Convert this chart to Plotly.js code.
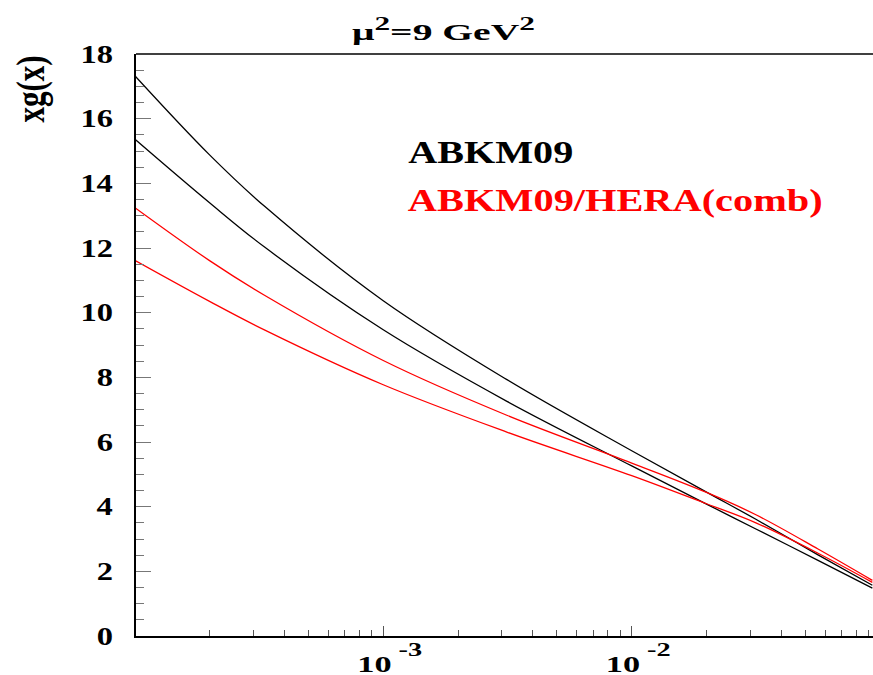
<!DOCTYPE html>
<html>
<head>
<meta charset="utf-8">
<script src="https://cdn.plot.ly/plotly-3.0.1.min.js"></script>
<style>html,body{margin:0;padding:0;background:#fff;}#chart{width:873px;height:675px;}</style>
</head>
<body>
<div id="chart"></div>
<script>
// x values (log scale)
var xVals = [1.0e-4, 2.0e-4, 3.34e-4, 1.0e-3, 3.16e-3, 1.0e-2, 2.0e-2, 3.16e-2, 5.62e-2, 9.3e-2];
// ABKM09 band (black)
var abkmUpper = [17.33, 14.88, 13.28, 10.37, 7.92, 5.73, 4.45, 3.61, 2.51, 1.57];
var abkmLower = [15.37, 13.40, 12.02, 9.47, 7.25, 5.26, 4.08, 3.31, 2.34, 1.48];
// ABKM09/HERA(comb) band (red)
var heraUpper = [13.25, 11.61, 10.53, 8.52, 6.82, 5.35, 4.44, 3.75, 2.69, 1.72];
var heraLower = [11.62, 10.35, 9.46, 7.77, 6.30, 4.96, 4.09, 3.50, 2.56, 1.66];

var xTickVals = [1e-3, 1e-2];
var xTickText = ['10<sup><span style="font-size:19px"> -3</span></sup>',
                 '10<sup><span style="font-size:19px"> -2</span></sup>'];
var yTickVals = [0, 2, 4, 6, 8, 10, 12, 14, 16, 18];

var serif = 'Liberation Serif';

function trace(y, color) {
  return {x: xVals, y: y, type: 'scatter', mode: 'lines',
          line: {color: color, width: 1.3, shape: 'spline', smoothing: 1},
          hoverinfo: 'skip', showlegend: false};
}

var minorX = [];
[1e-4, 1e-3, 1e-2].forEach(function (d) {
  for (var k = 2; k <= 9; k++) minorX.push(k * d);
});

var data = [
  trace(abkmUpper, '#000000'),
  trace(abkmLower, '#000000'),
  trace(heraUpper, '#ff0000'),
  trace(heraLower, '#ff0000')
];

var L = 136, T = 54, W = 737, H = 582;
function px(x) { return (x - L) / W; }
function py(y) { return 1 - (y - T) / H; }

var layout = {
  width: 873, height: 675,
  margin: {l: 136, r: 0, t: 54, b: 39},
  paper_bgcolor: '#ffffff', plot_bgcolor: '#ffffff',
  font: {family: serif, color: '#000000'},
  xaxis: {
    type: 'log', range: [-3.995, -1.029],
    showgrid: false, zeroline: false,
    showline: true, linecolor: '#000000', linewidth: 2,
    ticks: 'inside', ticklen: 10, tickwidth: 1, tickcolor: '#555555',
    tickmode: 'array', tickvals: xTickVals, ticktext: xTickText,
    tickfont: {family: serif, size: 23, color: '#000000', weight: 'bold'},
    ticklabelstandoff: 6,
    minor: {tickmode: 'array', tickvals: minorX, ticks: 'inside', ticklen: 6, tickwidth: 1, tickcolor: '#555555', showgrid: false}
  },
  yaxis: {
    range: [0, 18],
    showgrid: false, zeroline: false,
    showline: true, linecolor: '#000000', linewidth: 2,
    ticks: 'inside', ticklen: 15, tickwidth: 1, tickcolor: '#777777',
    tickmode: 'array', tickvals: yTickVals,
    tickfont: {family: serif, size: 25, color: '#000000', weight: 'bold'},
    ticklabelstandoff: 16,
    minor: {dtick: 0.5, ticks: 'inside', ticklen: 8, tickwidth: 1, tickcolor: '#777777', showgrid: false}
  },
  shapes: [
    {type: 'line', xref: 'paper', yref: 'paper', x0: 0, x1: 1, y0: 1, y1: 1,
     line: {color: '#000000', width: 1.5}}
  ],
  annotations: [
    {text: '<b>μ<sup><span style="font-size:19px">2</span></sup>=9 GeV<sup><span style="font-size:19px">2</span></sup></b>',
     xref: 'paper', yref: 'paper',
     x: px(443.5), y: py(29), xanchor: 'center', yanchor: 'middle',
     showarrow: false, font: {family: serif, size: 24, color: '#000000'}},
    {text: '<b>xg(x)</b>', xref: 'paper', yref: 'paper', textangle: -90,
     x: px(30), y: py(88.5), xanchor: 'center', yanchor: 'middle',
     showarrow: false, font: {family: serif, size: 31, color: '#000000'}},
    {text: '<b>ABKM09</b>', xref: 'paper', yref: 'paper',
     x: px(490.5), y: py(152.5), xanchor: 'center', yanchor: 'middle',
     showarrow: false, font: {family: serif, size: 31, color: '#000000'}},
    {text: '<b>ABKM09/HERA(comb)</b>', xref: 'paper', yref: 'paper',
     x: px(615.5), y: py(200.5), xanchor: 'center', yanchor: 'middle',
     showarrow: false, font: {family: serif, size: 31, color: '#ff0000'}}
  ]
};

// the reference's lettering is widened horizontally; reproduce that
function stretch(el, sx, sy, anchor, dx) {
  var bb = el.getBBox();
  var cx = anchor === 'right' ? bb.x + bb.width : (anchor === 'left' ? bb.x : bb.x + bb.width / 2);
  var cy = bb.y + bb.height / 2;
  var t = el.getAttribute('transform') || '';
  el.setAttribute('transform', t + ' translate(' + (cx + (dx || 0)) + ',' + cy + ') scale(' + sx + ',' + sy + ') translate(' + (-cx) + ',' + (-cy) + ')');
}
function stretchTo(el, targetW, anchor, dx) {
  var w = el.getBBox().width;
  if (w > 0) stretch(el, targetW / w, 1, anchor, dx);
}

Plotly.newPlot('chart', data, layout, {displayModeBar: false, staticPlot: true}).then(function (gd) {
  var k = 1.3;
  gd.querySelectorAll('g.ytick text').forEach(function (el) { stretch(el, k, 1, 'right', 0); });
  gd.querySelectorAll('g.xtick text').forEach(function (el) {
    el.querySelectorAll('tspan').forEach(function (ts) {
      var dy = ts.getAttribute('dy');
      if (dy && dy.charAt(0) === '-') ts.setAttribute('dy', '-0.95em');
    });
    stretchTo(el, 65, 'center', 6.5);
  });
  var targets = {'0': 183, '2': 165, '3': 415};
  gd.querySelectorAll('g.annotation').forEach(function (g) {
    var idx = g.getAttribute('data-index');
    var el = g.querySelector('text.annotation-text');
    if (!el) return;
    if (idx === '1') stretch(el, 1, k, 'center', 0);
    else stretchTo(el, targets[idx], 'center', 0);
  });
});
</script>
</body>
</html>
